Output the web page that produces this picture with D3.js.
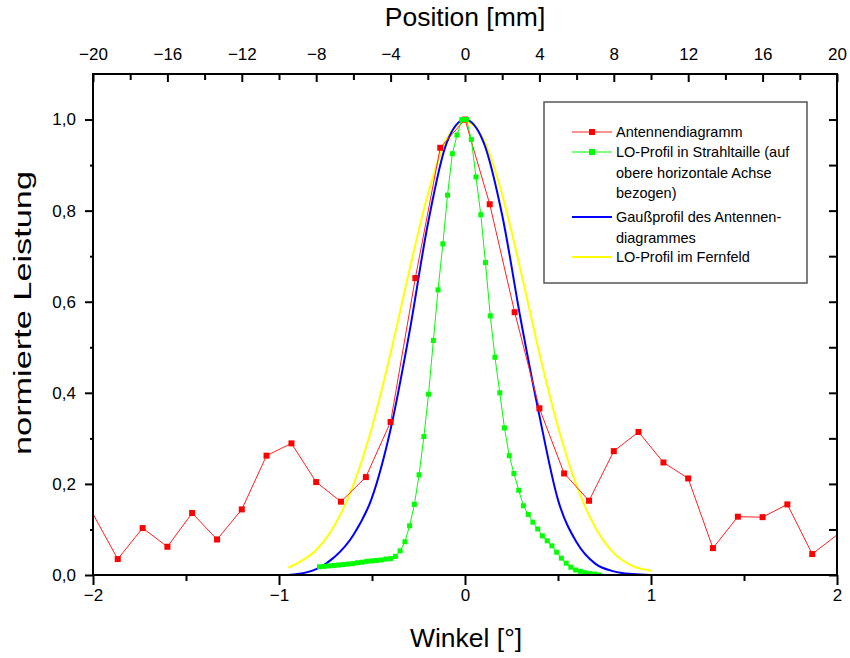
<!DOCTYPE html>
<html>
<head>
<meta charset="utf-8">
<script src="https://cdn.jsdelivr.net/npm/d3@7"></script>
<style>
  body { margin: 0; background: #fff; }
  text { font-family: "Liberation Sans", Arial, sans-serif; fill: #000; }
</style>
</head>
<body>
<svg width="850" height="658"></svg>
<script>
// Antennendiagramm (Winkel in Grad, normierte Leistung)
var antWinkel = [-2.133, -1.867, -1.733, -1.6, -1.467, -1.333, -1.2, -1.067, -0.933, -0.8, -0.667, -0.533, -0.4, -0.267, -0.133, 0,
                 0.133, 0.267, 0.4, 0.533, 0.667, 0.8, 0.933, 1.067, 1.2, 1.333, 1.467, 1.6, 1.733, 1.867, 2.133];
var antLeistung = [0.233, 0.035, 0.103, 0.062, 0.136, 0.078, 0.144, 0.262, 0.289, 0.204, 0.161, 0.215, 0.336, 0.652, 0.938, 1.0,
                   0.814, 0.577, 0.366, 0.223, 0.163, 0.272, 0.314, 0.247, 0.212, 0.059, 0.128, 0.127, 0.155, 0.046, 0.13];

// LO-Profil in Strahltaille (Position in mm, obere Achse)
var loPos = [-7.82, -7.56, -7.31, -7.05, -6.80, -6.54, -6.29, -6.03, -5.78, -5.52, -5.27, -5.01, -4.76, -4.50, -4.25, -3.99,
             -3.74, -3.49, -3.23, -2.98, -2.72, -2.47, -2.21, -1.96, -1.70, -1.45, -1.19, -0.94, -0.68, -0.43, -0.17, 0.08,
             0.34, 0.59, 0.85, 1.10, 1.36, 1.61, 1.87, 2.12, 2.38, 2.63, 2.89, 3.14, 3.40, 3.65, 3.91, 4.16,
             4.42, 4.67, 4.93, 5.18, 5.44, 5.69, 5.95, 6.20, 6.46, 6.71, 6.97, 7.22];
var loLeistung = [0.018, 0.019, 0.020, 0.021, 0.022, 0.023, 0.024, 0.025, 0.027, 0.028, 0.030, 0.031, 0.032, 0.033, 0.035, 0.036,
                  0.041, 0.053, 0.073, 0.108, 0.155, 0.220, 0.304, 0.397, 0.515, 0.626, 0.727, 0.834, 0.925, 0.966, 1.0, 1.0,
                  0.956, 0.874, 0.791, 0.686, 0.569, 0.478, 0.400, 0.323, 0.262, 0.223, 0.186, 0.152, 0.133, 0.116, 0.101, 0.086,
                  0.075, 0.064, 0.050, 0.037, 0.026, 0.017, 0.011, 0.008, 0.005, 0.003, 0.002, 0.0];

// Gaußprofil des Antennendiagrammes und LO-Profil im Fernfeld (Winkel in Grad)
var kurveWinkel = [-0.95, -0.9, -0.8, -0.7, -0.6, -0.5, -0.4, -0.3, -0.2, -0.1, 0, 0.1, 0.2, 0.3, 0.4, 0.5, 0.6, 0.7, 0.8, 0.9, 1.0];
var gaussLeistung = [0.0, 0.002, 0.013, 0.04, 0.088, 0.17, 0.32, 0.53, 0.77, 0.947, 1.0, 0.95, 0.79, 0.56, 0.35, 0.165, 0.072, 0.025, 0.008, 0.002, 0.0];
var fernLeistung = [0.016, 0.026, 0.055, 0.11, 0.198, 0.325, 0.487, 0.667, 0.835, 0.956, 0.995, 0.956, 0.835, 0.667, 0.487, 0.325, 0.196, 0.105, 0.048, 0.02, 0.0095];

var winkelTicks = [-2, -1, 0, 1, 2],
    winkelMinor = [-1.5, -0.5, 0.5, 1.5],
    posTicks = [-20, -16, -12, -8, -4, 0, 4, 8, 12, 16, 20],
    posMinor = [-18, -14, -10, -6, -2, 2, 6, 10, 14, 18],
    leistungTicks = [0, 0.2, 0.4, 0.6, 0.8, 1.0],
    leistungMinor = [0.1, 0.3, 0.5, 0.7, 0.9];

var svg = d3.select("svg"),
    margin = {top: 74, right: 13, bottom: 83, left: 93},
    width = +svg.attr("width") - margin.left - margin.right,
    height = +svg.attr("height") - margin.top - margin.bottom;

var de = d3.formatLocale({decimal: ",", thousands: ".", grouping: [3], currency: ["", " €"]}),
    fmt = de.format(".1f");

var x = d3.scaleLinear().domain([-2, 2]).range([0, width]),
    xTop = d3.scaleLinear().domain([-20, 20]).range([0, width]),
    y = d3.scaleLinear().domain([0, 1.1]).range([height, 0]);

var g = svg.append("g").attr("transform", "translate(" + margin.left + "," + margin.top + ")");

g.append("clipPath").attr("id", "clip")
  .append("rect").attr("width", width).attr("height", height);

var plot = g.append("g").attr("clip-path", "url(#clip)");

function zip(xs, ys) { return xs.map(function(d, i) { return [d, ys[i]]; }); }

var antData = zip(antWinkel, antLeistung),
    loData = zip(loPos, loLeistung),
    gaussData = zip(kurveWinkel, gaussLeistung),
    fernData = zip(kurveWinkel, fernLeistung);

var lineW = d3.line().x(function(d) { return x(d[0]); }).y(function(d) { return y(d[1]); }),
    lineP = d3.line().x(function(d) { return xTop(d[0]); }).y(function(d) { return y(d[1]); }),
    smoothW = d3.line().curve(d3.curveMonotoneX).x(function(d) { return x(d[0]); }).y(function(d) { return y(d[1]); });

// LO-Profil im Fernfeld
plot.append("path").datum(fernData)
    .attr("d", smoothW).attr("fill", "none").attr("stroke", "#ffff00").attr("stroke-width", 2);

// Gaußprofil
plot.append("path").datum(gaussData)
    .attr("d", smoothW).attr("fill", "none").attr("stroke", "#0000ff").attr("stroke-width", 2);

// Antennendiagramm
plot.append("path").datum(antData)
    .attr("d", lineW).attr("fill", "none").attr("stroke", "#ff2020").attr("stroke-width", 1);
plot.selectAll(".ant").data(antData).enter().append("rect")
    .attr("class", "ant")
    .attr("x", function(d) { return x(d[0]) - 3; })
    .attr("y", function(d) { return y(d[1]) - 3; })
    .attr("width", 6).attr("height", 6)
    .attr("fill", "#ff0000");

// LO-Profil in Strahltaille
plot.append("path").datum(loData)
    .attr("d", lineP).attr("fill", "none").attr("stroke", "#00ff00").attr("stroke-width", 1);
plot.selectAll(".lo").data(loData).enter().append("rect")
    .attr("class", "lo")
    .attr("x", function(d) { return xTop(d[0]) - 2.5; })
    .attr("y", function(d) { return y(d[1]) - 2.5; })
    .attr("width", 5).attr("height", 5)
    .attr("fill", "#00ff00");

// Achsen
function styleAxis(sel) {
  sel.select(".domain").remove();
  sel.selectAll("line").attr("stroke", "#000").attr("stroke-width", 2);
  sel.selectAll("text").style("font-size", "17px").style("font-family", "'Liberation Sans', Arial, sans-serif");
}

g.append("g").attr("transform", "translate(0," + height + ")")
    .call(d3.axisBottom(x).tickValues(winkelTicks).tickSize(10).tickPadding(4).tickFormat(d3.format("d")))
    .call(styleAxis);
g.append("g").attr("transform", "translate(0," + height + ")")
    .call(d3.axisBottom(x).tickValues(winkelMinor).tickSize(6).tickFormat(""))
    .call(styleAxis);

g.append("g")
    .call(d3.axisTop(xTop).tickValues(posTicks).tickSizeInner(-8).tickSizeOuter(0).tickPadding(14).tickFormat(d3.format("d")))
    .call(styleAxis);
g.append("g")
    .call(d3.axisTop(xTop).tickValues(posMinor).tickSizeInner(-6).tickSizeOuter(0).tickFormat(""))
    .call(styleAxis);

g.append("g")
    .call(d3.axisLeft(y).tickValues(leistungTicks).tickSize(8).tickPadding(9).tickFormat(fmt))
    .call(styleAxis);
g.append("g")
    .call(d3.axisLeft(y).tickValues(leistungMinor).tickSize(3).tickFormat(""))
    .call(styleAxis);

g.append("g").attr("transform", "translate(" + width + ",0)")
    .call(d3.axisRight(y).tickValues(leistungTicks.concat(leistungMinor)).tickSizeInner(-8).tickSizeOuter(0).tickFormat(""))
    .call(styleAxis);

g.append("rect").attr("width", width).attr("height", height)
    .attr("fill", "none").attr("stroke", "#000").attr("stroke-width", 2);

// Achsentitel
svg.append("text").attr("x", margin.left + width / 2 + 1).attr("y", 647)
    .attr("text-anchor", "middle").style("font-size", "26.5px").text("Winkel [°]");
svg.append("text").attr("x", margin.left + width / 2).attr("y", 26)
    .attr("text-anchor", "middle").style("font-size", "26.5px").text("Position [mm]");
svg.append("text").attr("transform", "translate(31,313) rotate(-90)")
    .attr("text-anchor", "middle").attr("textLength", 284).attr("lengthAdjust", "spacingAndGlyphs")
    .style("font-size", "23px").text("normierte Leistung");

// Legende
var legend = svg.append("g");
legend.append("rect").attr("x", 544).attr("y", 102).attr("width", 263).attr("height", 181)
    .attr("fill", "#fff").attr("stroke", "#555").attr("stroke-width", 1.5);

var eintraege = [
  {farbe: "#ff2020", punkt: "#ff0000", zeilen: ["Antennendiagramm"], y: 132},
  {farbe: "#00ff00", punkt: "#00ff00", zeilen: ["LO-Profil in Strahltaille (auf", "obere horizontale Achse", "bezogen)"], y: 152},
  {farbe: "#0000ff", punkt: null, zeilen: ["Gaußprofil des Antennen-", "diagrammes"], y: 217},
  {farbe: "#ffff00", punkt: null, zeilen: ["LO-Profil im Fernfeld"], y: 257}
];

eintraege.forEach(function(e) {
  legend.append("line").attr("x1", 572).attr("x2", 612).attr("y1", e.y).attr("y2", e.y)
      .attr("stroke", e.farbe).attr("stroke-width", e.punkt ? 1 : 2);
  if (e.punkt) {
    legend.append("rect").attr("x", 589).attr("y", e.y - 3).attr("width", 6).attr("height", 6).attr("fill", e.punkt);
  }
  e.zeilen.forEach(function(z, i) {
    legend.append("text").attr("x", 616).attr("y", e.y + 5 + i * 20.7)
        .style("font-size", "14.5px").text(z);
  });
});
</script>
</body>
</html>
